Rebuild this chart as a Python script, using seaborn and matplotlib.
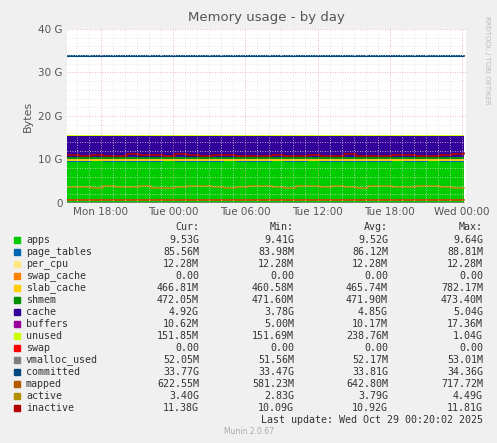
import numpy as np
import matplotlib
matplotlib.use("Agg")
import matplotlib.pyplot as plt
import seaborn as sns
from matplotlib.ticker import MultipleLocator, FuncFormatter

sns.set_style("white")
plt.rcParams['font.family'] = ['DejaVu Sans']

# hourly samples, Mon 15:12 .. Wed 00:12 (values in GB)
apps = [9.50, 9.52, 9.55, 9.48, 9.51, 9.53, 9.50, 9.49, 9.56, 9.52, 9.47, 9.50, 9.54, 9.58, 9.51, 9.49, 9.52,
        9.55, 9.50, 9.53, 9.57, 9.49, 9.51, 9.54, 9.52, 9.48, 9.50, 9.56, 9.53, 9.51, 9.55, 9.49, 9.52, 9.53]
cache = [4.86, 4.84, 4.82, 4.88, 4.85, 4.83, 4.86, 4.87, 4.80, 4.84, 4.89, 4.86, 4.82, 4.78, 4.85, 4.87, 4.84,
         4.81, 4.86, 4.83, 4.79, 4.87, 4.85, 4.82, 4.84, 4.88, 4.86, 4.80, 4.83, 4.85, 4.81, 4.87, 4.84, 4.92]
unused = [0.18, 0.20, 0.19, 0.21, 0.18, 0.20, 0.22, 0.19, 0.20, 0.18, 0.21, 0.20, 0.19, 0.22, 0.20, 0.19, 0.21,
          0.20, 0.18, 0.20, 0.22, 0.19, 0.20, 0.21, 0.20, 0.19, 0.20, 0.22, 0.20, 0.19, 0.21, 0.20, 0.19, 0.15]
inactive = [11.0, 10.9, 11.1, 10.8, 10.9, 11.2, 11.1, 11.0, 10.7, 11.3, 11.0, 10.9, 11.0, 11.1, 10.8, 10.9, 10.7,
            11.0, 10.9, 10.8, 11.1, 10.8, 10.9, 11.2, 10.8, 10.9, 10.7, 11.1, 11.0, 10.8, 10.9, 11.0, 11.3, 11.38]
active = [3.6, 3.7, 3.5, 3.8, 3.6, 3.7, 3.9, 3.5, 3.4, 3.7, 3.8, 3.9, 3.6, 3.4, 3.7, 3.9, 3.8,
          3.6, 3.5, 3.9, 3.8, 3.7, 3.9, 3.6, 3.5, 3.8, 3.9, 3.7, 3.6, 3.8, 3.9, 3.7, 3.5, 3.4]
committed = [33.8, 33.9, 33.7, 33.8, 33.9, 33.8, 33.7, 33.8, 33.9, 33.8, 33.7, 33.9, 33.8, 33.8, 33.7, 33.9, 33.8,
             33.8, 33.9, 33.7, 33.8, 33.8, 33.9, 33.8, 33.7, 33.8, 33.9, 33.8, 33.8, 33.7, 33.9, 33.8, 33.8, 33.77]
# flat series (current values)
page_tables_val = 0.086
per_cpu_val = 0.012
swap_cache_val = 0.0
slab_cache_val = 0.467
shmem_val = 0.472
buffers_val = 0.011
swap_val = 0.0
vmalloc_val = 0.052
mapped_val = 0.62

names = ["apps", "page_tables", "per_cpu", "swap_cache", "slab_cache", "shmem", "cache", "buffers",
         "unused", "swap", "vmalloc_used", "committed", "mapped", "active", "inactive"]
colors = ["#00CC00", "#0066B3", "#FFE680", "#FF8000", "#FFCC00", "#008F00", "#330099", "#990099",
          "#CCFF00", "#FF0000", "#808080", "#00487D", "#B35A00", "#B38F00", "#B30000"]
cur = ["9.53G", "85.56M", "12.28M", "0.00", "466.81M", "472.05M", "4.92G", "10.62M", "151.85M", "0.00",
       "52.05M", "33.77G", "622.55M", "3.40G", "11.38G"]
mins = ["9.41G", "83.98M", "12.28M", "0.00", "460.58M", "471.60M", "3.78G", "5.00M", "151.69M", "0.00",
        "51.56M", "33.47G", "581.23M", "2.83G", "10.09G"]
avgs = ["9.52G", "86.12M", "12.28M", "0.00", "465.74M", "471.90M", "4.85G", "10.17M", "238.76M", "0.00",
        "52.17M", "33.81G", "642.80M", "3.79G", "10.92G"]
maxs = ["9.64G", "88.81M", "12.28M", "0.00", "782.17M", "473.40M", "5.04G", "17.36M", "1.04G", "0.00",
        "53.01M", "34.36G", "717.72M", "4.49G", "11.81G"]

n = len(apps)
x = 15.2 + np.arange(n)  # hours since Mon 00:00
one = np.ones(n)
stack = [np.array(apps), page_tables_val * one, per_cpu_val * one, swap_cache_val * one, slab_cache_val * one,
         shmem_val * one, np.array(cache), buffers_val * one, np.array(unused), swap_val * one]

fig = plt.figure(figsize=(4.97, 4.43), dpi=100, facecolor="#F0F0F0")
ax = fig.add_axes([67 / 497, 240 / 443, 399 / 497, 174 / 443])
ax.set_facecolor("white")
ax.stackplot(x, *stack, colors=colors[:10], step="post", linewidth=0)
ax.step(x, vmalloc_val * one, where="post", color=colors[10], lw=1.2)
ax.step(x, committed, where="post", color=colors[11], lw=1.5)
ax.step(x, mapped_val * one, where="post", color=colors[12], lw=1.5)
ax.step(x, active, where="post", color=colors[13], lw=1.2)
ax.step(x, inactive, where="post", color=colors[14], lw=1.2)

ax.set_xlim(15.2, 48.33)
ax.set_ylim(0, 40)
ax.xaxis.set_major_locator(MultipleLocator(6))
ax.xaxis.set_minor_locator(MultipleLocator(1))
days = {0: "Mon", 1: "Tue", 2: "Wed"}
ax.xaxis.set_major_formatter(FuncFormatter(lambda v, p: f"{days[int(v // 24)]} {int(v % 24):02d}:00"))
ax.yaxis.set_major_locator(MultipleLocator(10))
ax.yaxis.set_minor_locator(MultipleLocator(2))
ax.yaxis.set_major_formatter(FuncFormatter(lambda v, p: "0" if v == 0 else f"{int(v)} G"))
ax.grid(which="minor", color="#DDDDDD", ls=(0, (1, 2)), lw=0.6)
ax.grid(which="major", color="#E8A0A0", ls=(0, (1, 2)), lw=0.6)
ax.set_axisbelow(False)
for s in ax.spines.values():
    s.set_visible(False)
ax.tick_params(labelsize=7.5, colors="#555555", length=0, pad=3)
ax.set_ylabel("Bytes", fontsize=8, color="#555555")
ax.set_title("Memory usage - by day", fontsize=9.5, color="#555555", pad=6)

fig.text(487 / 497, 1 - 60 / 443, "RRDTOOL / TOBI OETIKER", rotation=270, fontsize=5, color="#BBBBBB",
         ha="center", va="center")

mono = dict(family="DejaVu Sans Mono", fontsize=7.2, color="#333333")
fy = lambda py: 1 - py / 443
cols = [199, 294, 388, 483]
for col_x, h in zip(cols, ["Cur:", "Min:", "Avg:", "Max:"]):
    fig.text(col_x / 497, fy(227), h, ha="right", va="center", **mono)
for i, nm in enumerate(names):
    yy = fy(240 + i * 12)
    fig.patches.append(plt.Rectangle((14 / 497, yy - 3 / 443), 6 / 497, 6 / 443, color=colors[i],
                                     transform=fig.transFigure, figure=fig))
    fig.text(26 / 497, yy, nm, ha="left", va="center", **mono)
    for col_x, v in zip(cols, [cur[i], mins[i], avgs[i], maxs[i]]):
        fig.text(col_x / 497, yy, v, ha="right", va="center", **mono)
fig.text(483 / 497, fy(420), "Last update: Wed Oct 29 00:20:02 2025", ha="right", va="center", **mono)
fig.text(0.5, fy(432), "Munin 2.0.67", ha="center", va="center", fontsize=5.5, color="#AAAAAA")

fig.savefig("out.png", dpi=100, facecolor=fig.get_facecolor())
